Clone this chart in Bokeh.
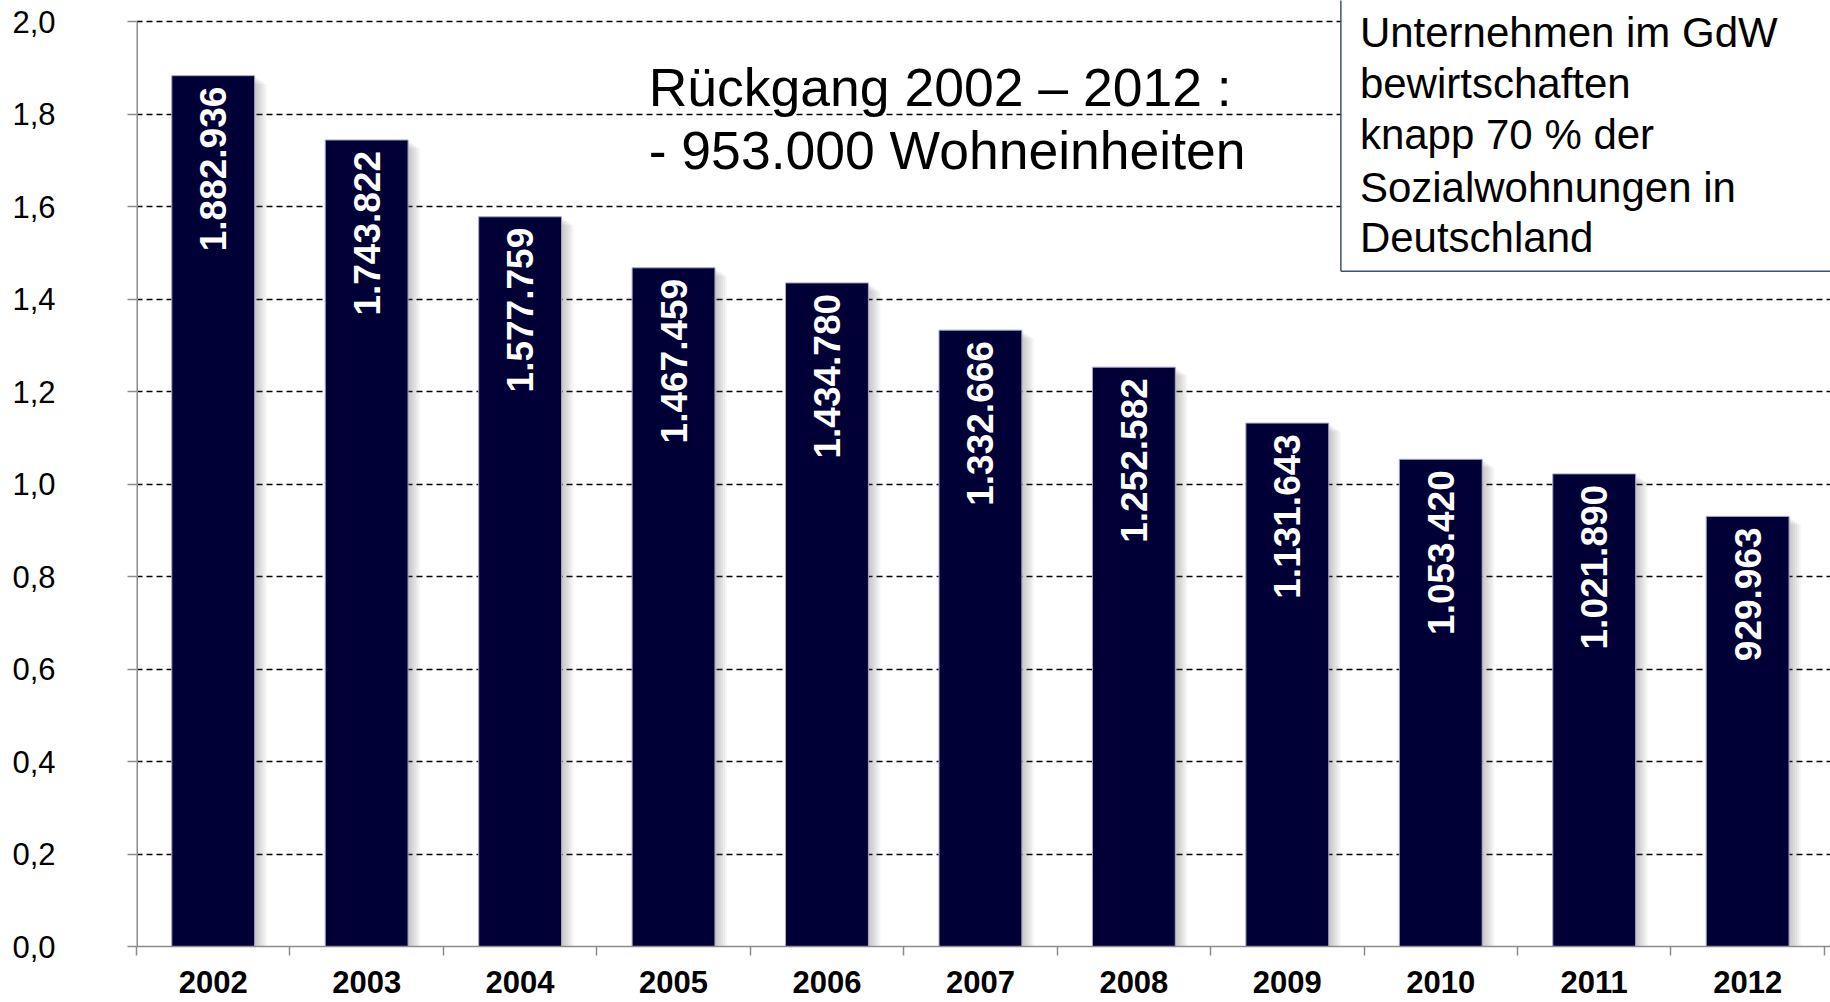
import math
from bokeh.plotting import figure
from bokeh.models import Range1d, FixedTicker, Label, ColumnDataSource
from bokeh.core.properties import value
from bokeh.embed import file_html
from bokeh.resources import INLINE

# ---- data ----
years = ["2002", "2003", "2004", "2005", "2006", "2007", "2008", "2009", "2010", "2011", "2012"]
units = [1882936, 1743822, 1577759, 1467459, 1434780, 1332666, 1252582, 1131643, 1053420, 1021890, 929963]
y_ticks = [0.0, 0.2, 0.4, 0.6, 0.8, 1.0, 1.2, 1.4, 1.6, 1.8, 2.0]
headline = ["Rückgang 2002 – 2012 :", "- 953.000 Wohneinheiten"]
box_lines = ["Unternehmen im GdW", "bewirtschaften", "knapp 70 % der", "Sozialwohnungen in", "Deutschland"]

# ---- derived ----
n = len(years)
xs = [i + 0.5 for i in range(n)]
vals = [u / 1e6 for u in units]
labels = [f"{u:,}".replace(",", ".") for u in units]
y_max = y_ticks[-1]

BAR = "#000036"
GRAY = "#8c8c8c"
FONT = "Liberation Sans"

p = figure(width=1830, height=1002, output_backend="svg", toolbar_location=None,
           x_range=Range1d(0, n + 0.04), y_range=Range1d(0, y_max * 946 / 925),
           min_border_left=136, min_border_right=0, min_border_top=0, min_border_bottom=56)
p.outline_line_color = None
p.background_fill_color = "white"
p.border_fill_color = "white"

# grid
p.xgrid.visible = False
p.ygrid.ticker = FixedTicker(ticks=y_ticks[1:])
p.ygrid.grid_line_color = "black"
p.ygrid.grid_line_dash = "6 4"
p.ygrid.grid_line_width = 1.4

# soft shadows to the right of the bars
for k in range(6, 0, -1):
    p.vbar(x=[x + 0.013 * k for x in xs], top=[v - 0.003 * k for v in vals], width=0.54,
           fill_color="#505050", fill_alpha=0.06, line_color=None)

src = ColumnDataSource(dict(x=xs, top=vals, lab=labels))
p.vbar(x="x", top="top", width=0.54, source=src, fill_color=BAR,
       line_color="#a8a8c4", line_width=1)

p.text(x="x", y="top", text="lab", source=src, angle=math.pi / 2,
       text_align="right", text_baseline="middle", y_offset=11,
       text_color="white", text_font=value(FONT), text_font_style="bold",
       text_font_size="37px")

# axes
xa = p.xaxis[0]
xa.ticker = FixedTicker(ticks=xs, minor_ticks=list(range(n + 1)))
xa.major_label_overrides = {x: y for x, y in zip(xs, years)}
xa.major_tick_out = 0
xa.major_tick_in = 0
xa.minor_tick_out = 9
xa.minor_tick_in = 0
xa.minor_tick_line_color = GRAY
xa.minor_tick_line_width = 1.5
xa.axis_line_color = GRAY
xa.axis_line_width = 1.5
xa.major_label_text_font = FONT
xa.major_label_text_font_style = "bold"
xa.major_label_text_font_size = "31px"
xa.major_label_text_color = "black"
xa.major_label_standoff = 15

ya = p.yaxis[0]
ya.ticker = FixedTicker(ticks=y_ticks)
ya.major_label_overrides = {t: f"{t:.1f}".replace(".", ",") for t in y_ticks}
ya.minor_tick_line_color = None
ya.major_tick_out = 9
ya.major_tick_in = 0
ya.major_tick_line_color = GRAY
ya.major_tick_line_width = 1.5
ya.axis_line_color = None
ya.major_label_text_font = FONT
ya.major_label_text_font_size = "31px"
ya.major_label_text_color = "black"
ya.major_label_standoff = 72
# visible y-axis line only up to the top tick
p.segment(x0=[0], y0=[0], x1=[0], y1=[y_max], line_color=GRAY, line_width=3)

# text box (top right)
bx_left, bx_bottom = 7.849, 1.460
p.quad(left=[bx_left], right=[n + 1], bottom=[bx_bottom], top=[3], fill_color="white", line_color=None)
p.segment(x0=[bx_left, bx_left], y0=[bx_bottom, bx_bottom], x1=[bx_left, n + 1], y1=[3, bx_bottom],
          line_color="#3c5274", line_width=1.5)

box_y = [1.977, 1.865, 1.755, 1.642, 1.534]
for t, yy in zip(box_lines, box_y):
    p.add_layout(Label(x=7.973, y=yy, text=t, text_font=FONT, text_font_size="42px",
                       text_color="black", text_baseline="alphabetic"))

head_y = [1.858, 1.722]
for t, yy in zip(headline, head_y):
    p.add_layout(Label(x=3.338, y=yy, text=t, text_font=FONT, text_font_size="53.5px",
                       text_color="black", text_baseline="alphabetic"))

open("out.html", "w").write(file_html(p, INLINE))
